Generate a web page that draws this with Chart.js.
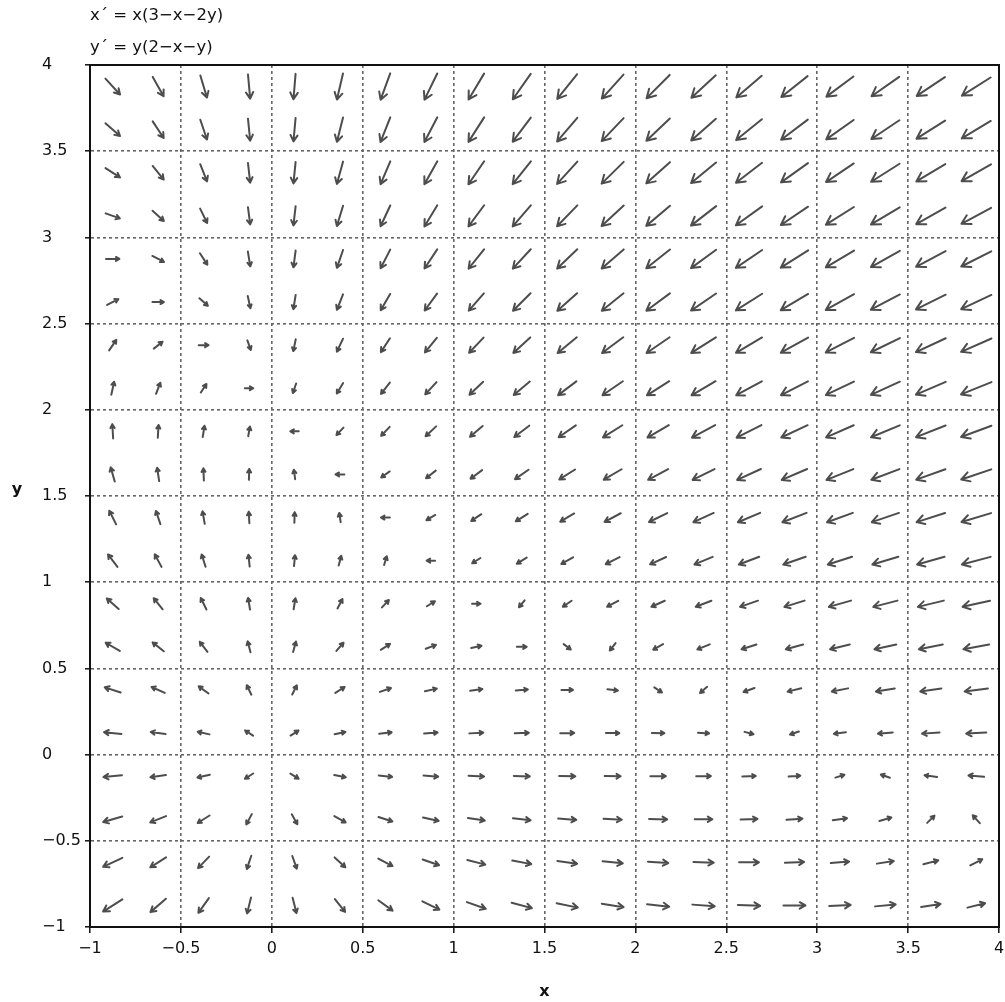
<!DOCTYPE html>
<html>
<head>
<meta charset="utf-8">
<title>Direction field</title>
<script src="https://cdn.jsdelivr.net/npm/chart.js@4.4.1/dist/chart.umd.min.js"></script>
<style>
  html, body { margin: 0; padding: 0; background: #fff; }
  #chart { display: block; }
</style>
</head>
<body>
<canvas id="chart" width="1005" height="1002"></canvas>
<script>
// --- Dados: pontos da grade e componentes do campo (x', y') ---
const titleLines = ['x\u00b4 = x(3\u2212x\u22122y)', 'y\u00b4 = y(2\u2212x\u2212y)'];
const gridX = [-0.875, -0.625, -0.375, -0.125, 0.125, 0.375, 0.625, 0.875, 1.125, 1.375,
               1.625, 1.875, 2.125, 2.375, 2.625, 2.875, 3.125, 3.375, 3.625, 3.875];
const gridY = [3.875, 3.625, 3.375, 3.125, 2.875, 2.625, 2.375, 2.125, 1.875, 1.625,
               1.375, 1.125, 0.875, 0.625, 0.375, 0.125, -0.125, -0.375, -0.625, -0.875];
const tickValues = [-1, -0.5, 0, 0.5, 1, 1.5, 2, 2.5, 3, 3.5, 4];

// x' em cada ponto (linhas de cima para baixo, colunas da esquerda para a direita)
const xPrime = [
  [3.39, 2.58, 1.64, 0.58, -0.61, -1.92, -3.36, -4.92, -6.61, -8.42, -10.36, -12.42, -14.61, -16.92, -19.36, -21.92, -24.61, -27.42, -30.36, -33.42],
  [2.95, 2.27, 1.45, 0.52, -0.55, -1.73, -3.05, -4.48, -6.05, -7.73, -9.55, -11.48, -13.55, -15.73, -18.05, -20.48, -23.05, -25.73, -28.55, -31.48],
  [2.52, 1.95, 1.27, 0.45, -0.48, -1.55, -2.73, -4.05, -5.48, -7.05, -8.73, -10.55, -12.48, -14.55, -16.73, -19.05, -21.48, -24.05, -26.73, -29.55],
  [2.08, 1.64, 1.08, 0.39, -0.42, -1.36, -2.42, -3.61, -4.92, -6.36, -7.92, -9.61, -11.42, -13.36, -15.42, -17.61, -19.92, -22.36, -24.92, -27.61],
  [1.64, 1.33, 0.89, 0.33, -0.36, -1.17, -2.11, -3.17, -4.36, -5.67, -7.11, -8.67, -10.36, -12.17, -14.11, -16.17, -18.36, -20.67, -23.11, -25.67],
  [1.20, 1.02, 0.70, 0.27, -0.30, -0.98, -1.80, -2.73, -3.80, -4.98, -6.30, -7.73, -9.30, -10.98, -12.80, -14.73, -16.80, -18.98, -21.30, -23.73],
  [0.77, 0.70, 0.52, 0.20, -0.23, -0.80, -1.48, -2.30, -3.23, -4.30, -5.48, -6.80, -8.23, -9.80, -11.48, -13.30, -15.23, -17.30, -19.48, -21.80],
  [0.33, 0.39, 0.33, 0.14, -0.17, -0.61, -1.17, -1.86, -2.67, -3.61, -4.67, -5.86, -7.17, -8.61, -10.17, -11.86, -13.67, -15.61, -17.67, -19.86],
  [-0.11, 0.08, 0.14, 0.08, -0.11, -0.42, -0.86, -1.42, -2.11, -2.92, -3.86, -4.92, -6.11, -7.42, -8.86, -10.42, -12.11, -13.92, -15.86, -17.92],
  [-0.55, -0.23, -0.05, 0.02, -0.05, -0.23, -0.55, -0.98, -1.55, -2.23, -3.05, -3.98, -5.05, -6.23, -7.55, -8.98, -10.55, -12.23, -14.05, -15.98],
  [-0.98, -0.55, -0.23, -0.05, 0.02, -0.05, -0.23, -0.55, -0.98, -1.55, -2.23, -3.05, -3.98, -5.05, -6.23, -7.55, -8.98, -10.55, -12.23, -14.05],
  [-1.42, -0.86, -0.42, -0.11, 0.08, 0.14, 0.08, -0.11, -0.42, -0.86, -1.42, -2.11, -2.92, -3.86, -4.92, -6.11, -7.42, -8.86, -10.42, -12.11],
  [-1.86, -1.17, -0.61, -0.17, 0.14, 0.33, 0.39, 0.33, 0.14, -0.17, -0.61, -1.17, -1.86, -2.67, -3.61, -4.67, -5.86, -7.17, -8.61, -10.17],
  [-2.30, -1.48, -0.80, -0.23, 0.20, 0.52, 0.70, 0.77, 0.70, 0.52, 0.20, -0.23, -0.80, -1.48, -2.30, -3.23, -4.30, -5.48, -6.80, -8.23],
  [-2.73, -1.80, -0.98, -0.30, 0.27, 0.70, 1.02, 1.20, 1.27, 1.20, 1.02, 0.70, 0.27, -0.30, -0.98, -1.80, -2.73, -3.80, -4.98, -6.30],
  [-3.17, -2.11, -1.17, -0.36, 0.33, 0.89, 1.33, 1.64, 1.83, 1.89, 1.83, 1.64, 1.33, 0.89, 0.33, -0.36, -1.17, -2.11, -3.17, -4.36],
  [-3.61, -2.42, -1.36, -0.42, 0.39, 1.08, 1.64, 2.08, 2.39, 2.58, 2.64, 2.58, 2.39, 2.08, 1.64, 1.08, 0.39, -0.42, -1.36, -2.42],
  [-4.05, -2.73, -1.55, -0.48, 0.45, 1.27, 1.95, 2.52, 2.95, 3.27, 3.45, 3.52, 3.45, 3.27, 2.95, 2.52, 1.95, 1.27, 0.45, -0.48],
  [-4.48, -3.05, -1.73, -0.55, 0.52, 1.45, 2.27, 2.95, 3.52, 3.95, 4.27, 4.45, 4.52, 4.45, 4.27, 3.95, 3.52, 2.95, 2.27, 1.45],
  [-4.92, -3.36, -1.92, -0.61, 0.58, 1.64, 2.58, 3.39, 4.08, 4.64, 5.08, 5.39, 5.58, 5.64, 5.58, 5.39, 5.08, 4.64, 4.08, 3.39]
];

// y' em cada ponto (mesma ordem)
const yPrime = [
  [-3.88, -4.84, -5.81, -6.78, -7.75, -8.72, -9.69, -10.66, -11.63, -12.59, -13.56, -14.53, -15.50, -16.47, -17.44, -18.41, -19.38, -20.34, -21.31, -22.28],
  [-2.72, -3.63, -4.53, -5.44, -6.34, -7.25, -8.16, -9.06, -9.97, -10.88, -11.78, -12.69, -13.59, -14.50, -15.41, -16.31, -17.22, -18.13, -19.03, -19.94],
  [-1.69, -2.53, -3.38, -4.22, -5.06, -5.91, -6.75, -7.59, -8.44, -9.28, -10.13, -10.97, -11.81, -12.66, -13.50, -14.34, -15.19, -16.03, -16.88, -17.72],
  [-0.78, -1.56, -2.34, -3.13, -3.91, -4.69, -5.47, -6.25, -7.03, -7.81, -8.59, -9.38, -10.16, -10.94, -11.72, -12.50, -13.28, -14.06, -14.84, -15.63],
  [0, -0.72, -1.44, -2.16, -2.88, -3.59, -4.31, -5.03, -5.75, -6.47, -7.19, -7.91, -8.63, -9.34, -10.06, -10.78, -11.50, -12.22, -12.94, -13.66],
  [0.66, 0, -0.66, -1.31, -1.97, -2.63, -3.28, -3.94, -4.59, -5.25, -5.91, -6.56, -7.22, -7.88, -8.53, -9.19, -9.84, -10.50, -11.16, -11.81],
  [1.19, 0.59, 0, -0.59, -1.19, -1.78, -2.38, -2.97, -3.56, -4.16, -4.75, -5.34, -5.94, -6.53, -7.13, -7.72, -8.31, -8.91, -9.50, -10.09],
  [1.59, 1.06, 0.53, 0, -0.53, -1.06, -1.59, -2.13, -2.66, -3.19, -3.72, -4.25, -4.78, -5.31, -5.84, -6.38, -6.91, -7.44, -7.97, -8.50],
  [1.88, 1.41, 0.94, 0.47, 0, -0.47, -0.94, -1.41, -1.88, -2.34, -2.81, -3.28, -3.75, -4.22, -4.69, -5.16, -5.63, -6.09, -6.56, -7.03],
  [2.03, 1.63, 1.22, 0.81, 0.41, 0, -0.41, -0.81, -1.22, -1.63, -2.03, -2.44, -2.84, -3.25, -3.66, -4.06, -4.47, -4.88, -5.28, -5.69],
  [2.06, 1.72, 1.38, 1.03, 0.69, 0.34, 0, -0.34, -0.69, -1.03, -1.38, -1.72, -2.06, -2.41, -2.75, -3.09, -3.44, -3.78, -4.13, -4.47],
  [1.97, 1.69, 1.41, 1.13, 0.84, 0.56, 0.28, 0, -0.28, -0.56, -0.84, -1.13, -1.41, -1.69, -1.97, -2.25, -2.53, -2.81, -3.09, -3.38],
  [1.75, 1.53, 1.31, 1.09, 0.88, 0.66, 0.44, 0.22, 0, -0.22, -0.44, -0.66, -0.88, -1.09, -1.31, -1.53, -1.75, -1.97, -2.19, -2.41],
  [1.41, 1.25, 1.09, 0.94, 0.78, 0.63, 0.47, 0.31, 0.16, 0, -0.16, -0.31, -0.47, -0.63, -0.78, -0.94, -1.09, -1.25, -1.41, -1.56],
  [0.94, 0.84, 0.75, 0.66, 0.56, 0.47, 0.38, 0.28, 0.19, 0.09, 0, -0.09, -0.19, -0.28, -0.38, -0.47, -0.56, -0.66, -0.75, -0.84],
  [0.34, 0.31, 0.28, 0.25, 0.22, 0.19, 0.16, 0.13, 0.09, 0.06, 0.03, 0, -0.03, -0.06, -0.09, -0.13, -0.16, -0.19, -0.22, -0.25],
  [-0.38, -0.34, -0.31, -0.28, -0.25, -0.22, -0.19, -0.16, -0.13, -0.09, -0.06, -0.03, 0, 0.03, 0.06, 0.09, 0.13, 0.16, 0.19, 0.22],
  [-1.22, -1.13, -1.03, -0.94, -0.84, -0.75, -0.66, -0.56, -0.47, -0.38, -0.28, -0.19, -0.09, 0, 0.09, 0.19, 0.28, 0.38, 0.47, 0.56],
  [-2.19, -2.03, -1.88, -1.72, -1.56, -1.41, -1.25, -1.09, -0.94, -0.78, -0.63, -0.47, -0.31, -0.16, 0, 0.16, 0.31, 0.47, 0.63, 0.78],
  [-3.28, -3.06, -2.84, -2.63, -2.41, -2.19, -1.97, -1.75, -1.53, -1.31, -1.09, -0.88, -0.66, -0.44, -0.22, 0, 0.22, 0.44, 0.66, 0.88]
];

// --- Estilo ---
const FONT = 'DejaVu Sans';
const ARROW_COLOR = '#4d4d4d';
const FRAME_COLOR = '#111';
const GRID_COLOR = '#666';

const fmt = v => String(v).replace('-', '\u2212');

// pontos da grade com o vetor em cada um
const points = [];
gridY.forEach((y, j) => {
    gridX.forEach((x, i) => {
        points.push({ x: x, y: y, u: xPrime[j][i], v: yPrime[j][i] });
    });
});

// comprimento da seta em px, cresce com |v| e satura
const arrowLength = m => 8 + 26 * (1 - Math.exp(-m / 7));

const arrowPlugin = {
    id: 'arrows',
    afterDatasetsDraw(chart) {
        const { ctx, scales: { x: xs, y: ys } } = chart;
        const kx = xs.getPixelForValue(1) - xs.getPixelForValue(0);
        const ky = ys.getPixelForValue(0) - ys.getPixelForValue(1);
        const meta = chart.getDatasetMeta(0);
        const data = chart.data.datasets[0].data;
        ctx.save();
        ctx.strokeStyle = ARROW_COLOR;
        ctx.lineWidth = 2;
        ctx.lineCap = 'round';
        ctx.lineJoin = 'round';
        meta.data.forEach((el, k) => {
            const p = data[k];
            const m = Math.hypot(p.u, p.v);
            if (m === 0) return;
            let dx = p.u * kx, dy = -p.v * ky;
            const n = Math.hypot(dx, dy);
            dx /= n; dy /= n;
            const L = arrowLength(m);
            const x0 = el.x - dx * L / 2, y0 = el.y - dy * L / 2;
            const x1 = el.x + dx * L / 2, y1 = el.y + dy * L / 2;
            const h = Math.max(4, 0.3 * L);
            const a = Math.atan2(dy, dx);
            const sp = 0.52;
            ctx.beginPath();
            ctx.moveTo(x0, y0);
            ctx.lineTo(x1, y1);
            ctx.moveTo(x1 - h * Math.cos(a - sp), y1 - h * Math.sin(a - sp));
            ctx.lineTo(x1, y1);
            ctx.lineTo(x1 - h * Math.cos(a + sp), y1 - h * Math.sin(a + sp));
            ctx.stroke();
        });
        ctx.restore();
    }
};

const framePlugin = {
    id: 'frame',
    afterDraw(chart) {
        const { ctx, chartArea: a } = chart;
        ctx.save();
        ctx.strokeStyle = FRAME_COLOR;
        ctx.lineWidth = 2;
        ctx.strokeRect(a.left, a.top, a.right - a.left, a.bottom - a.top);
        // rótulo do eixo y (não rotacionado)
        ctx.fillStyle = '#111';
        ctx.font = 'bold 16px "' + FONT + '"';
        ctx.textAlign = 'center';
        ctx.textBaseline = 'middle';
        ctx.fillText('y', 17, 490);
        ctx.restore();
    }
};

const gridOpts = {
    color: GRID_COLOR,
    lineWidth: 1.6,
    tickColor: FRAME_COLOR,
    tickWidth: 1.5,
    tickLength: 6,
    tickBorderDash: []
};

const ctx = document.getElementById('chart').getContext('2d');
new Chart(ctx, {
    type: 'scatter',
    data: {
        datasets: [{ data: points, pointRadius: 0, pointHoverRadius: 0, showLine: false }]
    },
    options: {
        responsive: false,
        animation: false,
        events: [],
        layout: { padding: { left: 42, right: 6, top: 0, bottom: 0 } },
        plugins: {
            legend: { display: false },
            tooltip: { enabled: false },
            title: {
                display: true,
                text: titleLines,
                align: 'start',
                fullSize: false,
                color: '#111',
                font: { family: FONT, size: 16.5, weight: 'normal', lineHeight: '32px' },
                padding: { top: 0, bottom: 1 }
            }
        },
        scales: {
            x: {
                type: 'linear',
                min: -1,
                max: 4,
                afterBuildTicks: s => { s.ticks = tickValues.map(v => ({ value: v })); },
                afterFit: s => { s.height = 75; s.paddingLeft = 0; s.paddingRight = 0; },
                ticks: {
                    color: '#111',
                    padding: 6,
                    maxRotation: 0,
                    font: { family: FONT, size: 16 },
                    callback: v => fmt(v)
                },
                grid: gridOpts,
                border: { display: true, color: FRAME_COLOR, width: 2, dash: [3, 3] },
                title: {
                    display: true,
                    text: 'x',
                    color: '#111',
                    font: { family: FONT, size: 16, weight: 'bold' },
                    padding: { top: 0, bottom: 1 }
                }
            },
            y: {
                type: 'linear',
                min: -1,
                max: 4,
                afterBuildTicks: s => { s.ticks = tickValues.map(v => ({ value: v })); },
                afterFit: s => { s.width = 48; },
                ticks: {
                    color: '#111',
                    padding: 4,
                    crossAlign: 'far',
                    font: { family: FONT, size: 16 },
                    callback: v => fmt(v)
                },
                grid: Object.assign({}, gridOpts, { tickLength: 5 }),
                border: { display: true, color: FRAME_COLOR, width: 2, dash: [3, 3] }
            }
        }
    },
    plugins: [arrowPlugin, framePlugin]
});
</script>
</body>
</html>
